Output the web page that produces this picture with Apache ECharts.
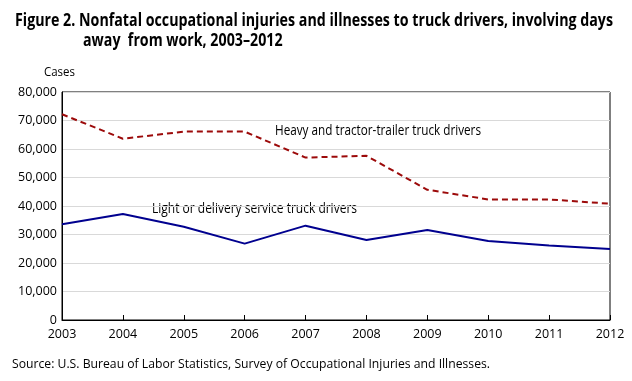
<!DOCTYPE html>
<html><head><meta charset="utf-8">
<script src="https://cdn.jsdelivr.net/npm/echarts@6/dist/echarts.min.js"></script>
<style>html,body{margin:0;padding:0;background:#fff}#c{width:632px;height:381px}</style>
</head><body><div id="c"></div>
<script>
const years = ['2003','2004','2005','2006','2007','2008','2009','2010','2011','2012'];
const heavy = [72200, 63600, 66100, 66100, 57000, 57600, 45700, 42300, 42300, 40800];
const light = [33600, 37200, 32700, 26800, 33100, 28100, 31600, 27700, 26100, 24900];
const yTicks = [0, 10000, 20000, 30000, 40000, 50000, 60000, 70000, 80000];
const titleLines = ['Figure 2. Nonfatal occupational injuries and illnesses to truck drivers, involving days', 'away  from work, 2003\u20132012'];
const heavyLabel = 'Heavy and tractor-trailer truck drivers';
const lightLabel = 'Light or delivery service truck drivers';
const sourceText = 'Source: U.S. Bureau of Labor Statistics, Survey of Occupational Injuries and Illnesses.';

const FAM = '"Open Sans"';
const ctx = document.createElement('canvas').getContext('2d');
function sx(text, size, weight, width) {
  ctx.font = weight + ' ' + size + 'px ' + FAM;
  return width / ctx.measureText(text).width;
}
function txt(text, x, y, size, weight, width) {
  return {type: 'text', x: x, y: y, scaleX: sx(text, size, weight, width), scaleY: 1,
    style: {text: text, fontFamily: FAM, fontSize: size, fontWeight: weight, fill: '#000',
      align: 'left', verticalAlign: 'middle'}};
}

const chart = echarts.init(document.getElementById('c'));
const t1 = sx(titleLines[0], 17, 'bold', 598);
chart.setOption({
  animation: false,
  backgroundColor: '#fff',
  grid: {left: 62, right: 22, top: 92, bottom: 61, show: true, borderColor: '#000', borderWidth: 1},
  xAxis: {
    type: 'category', data: years, boundaryGap: false,
    axisLine: {lineStyle: {color: '#000', width: 1}},
    axisTick: {show: true, inside: true, length: 5, lineStyle: {color: '#000'}},
    axisLabel: {fontFamily: FAM, fontSize: 12.5, color: '#000', margin: 8},
    splitLine: {show: false}
  },
  yAxis: {
    type: 'value', min: 0, max: 80000, interval: 10000,
    axisLine: {show: true, lineStyle: {color: '#000'}},
    axisTick: {show: false},
    axisLabel: {fontFamily: FAM, fontSize: 12.5, color: '#000', margin: 5,
      formatter: v => yTicks.includes(v) ? v.toLocaleString('en-US') : ''},
    splitLine: {lineStyle: {color: '#d9d9d9', width: 1}}
  },
  series: [
    {name: heavyLabel, type: 'line', data: heavy, symbol: 'none',
     lineStyle: {color: '#9c0a0a', width: 2, type: [6, 4]}},
    {name: lightLabel, type: 'line', data: light, symbol: 'none',
     lineStyle: {color: '#00008f', width: 2}}
  ],
  graphic: [
    {type: 'text', x: 15, y: 21, scaleX: t1, style: {text: titleLines[0], fontFamily: FAM, fontSize: 17, fontWeight: 'bold', fill: '#000', verticalAlign: 'middle'}},
    {type: 'text', x: 83, y: 41, scaleX: t1, style: {text: titleLines[1], fontFamily: FAM, fontSize: 17, fontWeight: 'bold', fill: '#000', verticalAlign: 'middle'}},
    txt('Cases', 44, 73, 12, 'normal', 31),
    txt(heavyLabel, 275, 131, 14, 'normal', 206),
    txt(lightLabel, 152, 209, 14, 'normal', 205),
    txt(sourceText, 12, 364, 12.5, 'normal', 478)
  ]
});
</script></body></html>
